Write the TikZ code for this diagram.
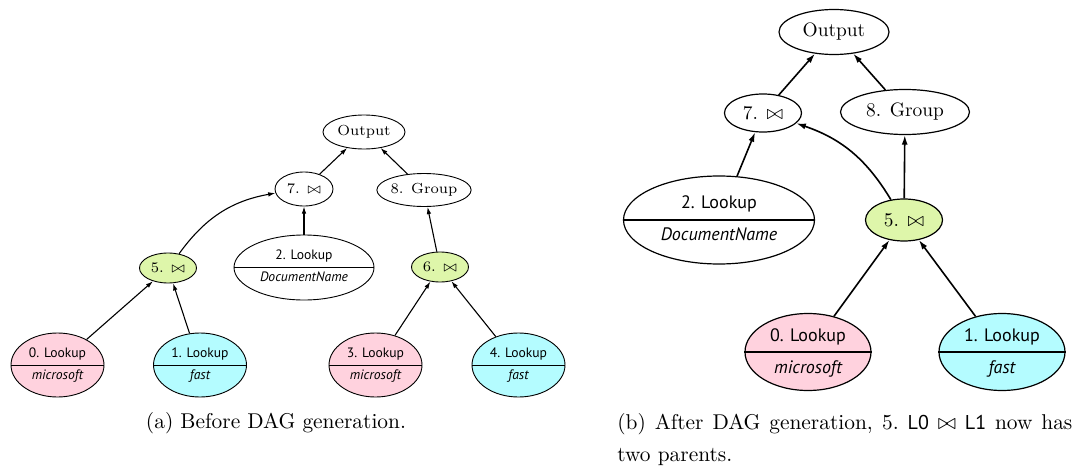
\documentclass[tikz,border=0pt]{standalone}
\usepackage{fontspec}
\newfontfamily\opsans{PT Sans}
\usetikzlibrary{shapes.geometric, arrows.meta}
\definecolor{pinkfill}{RGB}{255,210,222}
\definecolor{cyanfill}{RGB}{180,252,255}
\definecolor{greenfill}{RGB}{222,246,170}

\begin{document}
\begin{tikzpicture}[x=0.5pt, y=-0.5pt,
  op/.style={ellipse, draw, inner sep=0pt},
  % left plan: small scale
  sop/.style={op, line width=0.45pt, font=\fontsize{7.3}{8}\selectfont},
  slab/.style={inner sep=0pt, anchor=base, font=\opsans\fontsize{6.8}{8}\selectfont},
  sline/.style={line width=0.4pt},
  sedge/.style={line width=0.55pt, -{Latex[length=3.6pt,width=2.3pt]}},
  % right plan: large scale
  bop/.style={op, line width=0.6pt, font=\fontsize{9.7}{11}\selectfont},
  blab/.style={inner sep=0pt, anchor=base, font=\opsans\fontsize{9}{10}\selectfont},
  bline/.style={line width=0.55pt},
  bedge/.style={line width=0.8pt, -{Latex[length=4.8pt,width=3pt]}},
  captext/.style={inner sep=0pt, anchor=base, font=\fontsize{10.7}{16}\selectfont},
]
\useasboundingbox (0,0) rectangle (1082,466);

% ---------------- (a) plan tree ----------------
\node[sop, minimum width=41pt, minimum height=17pt] (aout) at (364,132) {Output};
\node[sop, minimum width=29pt, minimum height=17pt] (a7) at (304,189) {7. $\bowtie$};
\node[sop, minimum width=47pt, minimum height=16.5pt] (a8) at (424,190) {8. Group};
\node[sop, fill=greenfill, minimum width=28.5pt, minimum height=15pt] (a5) at (168,268) {5. $\bowtie$};
\node[sop, fill=greenfill, minimum width=28.5pt, minimum height=15pt] (a6) at (440,267) {6. $\bowtie$};

\node[sop, minimum width=70pt, minimum height=32.5pt] (a2) at (304,267.5) {};
\draw[sline] (a2.west) -- (a2.east);
\node[slab] (a2t) at ([yshift=4pt]a2.center) {2. Lookup};
\node[slab] (a2b) at ([yshift=-7pt]a2.center) {\itshape DocumentName};

\node[sop, fill=pinkfill, minimum width=46.5pt, minimum height=32pt] (a0) at (57.5,365) {};
\draw[sline] (a0.west) -- (a0.east);
\node[slab] (a0t) at ([yshift=4pt]a0.center) {0. Lookup};
\node[slab] (a0b) at ([yshift=-7pt]a0.center) {\itshape microsoft};

\node[sop, fill=cyanfill, minimum width=46.5pt, minimum height=32pt] (a1) at (200,365) {};
\draw[sline] (a1.west) -- (a1.east);
\node[slab] (a1t) at ([yshift=4pt]a1.center) {1. Lookup};
\node[slab] (a1b) at ([yshift=-7pt]a1.center) {\itshape fast};

\node[sop, fill=pinkfill, minimum width=46.5pt, minimum height=32pt] (a3) at (375.5,365) {};
\draw[sline] (a3.west) -- (a3.east);
\node[slab] (a3t) at ([yshift=4pt]a3.center) {3. Lookup};
\node[slab] (a3b) at ([yshift=-7pt]a3.center) {\itshape microsoft};

\node[sop, fill=cyanfill, minimum width=46.5pt, minimum height=32pt] (a4) at (518.5,365) {};
\draw[sline] (a4.west) -- (a4.east);
\node[slab] (a4t) at ([yshift=4pt]a4.center) {4. Lookup};
\node[slab] (a4b) at ([yshift=-7pt]a4.center) {\itshape fast};

\draw[sedge] (a0) -- (a5);
\draw[sedge] (a1) -- (a5);
\draw[sedge] (a3) -- (a6);
\draw[sedge] (a4) -- (a6);
\draw[sedge] (a5) to[bend left=22] (a7);
\draw[sedge] (a2) -- (a7);
\draw[sedge] (a6) -- (a8);
\draw[sedge] (a7) -- (aout);
\draw[sedge] (a8) -- (aout);

\node[captext] (capa) at (276,428) {(a) Before DAG generation.};

% ---------------- (b) plan DAG ----------------
\node[bop, minimum width=55pt, minimum height=22.5pt] (bout) at (834,32) {Output};
\node[bop, minimum width=38.5pt, minimum height=19pt] (b7) at (763,113) {7. $\bowtie$};
\node[bop, minimum width=64.5pt, minimum height=22.5pt] (b8) at (905,112) {8. Group};
\node[bop, fill=greenfill, minimum width=38.5pt, minimum height=21pt] (b5) at (904,220) {5. $\bowtie$};

\node[bop, minimum width=95.5pt, minimum height=44pt] (b2) at (719,220) {};
\draw[bline] (b2.west) -- (b2.east);
\node[blab] (b2t) at ([yshift=5.6pt]b2.center) {2. Lookup};
\node[blab] (b2b) at ([yshift=-10pt]b2.center) {\itshape DocumentName};

\node[bop, fill=pinkfill, minimum width=63pt, minimum height=38.5pt] (b0) at (808,352) {};
\draw[bline] (b0.west) -- (b0.east);
\node[blab] (b0t) at ([yshift=5.2pt]b0.center) {0. Lookup};
\node[blab] (b0b) at ([yshift=-10.5pt]b0.center) {\itshape microsoft};

\node[bop, fill=cyanfill, minimum width=63pt, minimum height=38.5pt] (b1) at (1002,352) {};
\draw[bline] (b1.west) -- (b1.east);
\node[blab] (b1t) at ([yshift=5.2pt]b1.center) {1. Lookup};
\node[blab] (b1b) at ([yshift=-10.5pt]b1.center) {\itshape fast};

\draw[bedge] (b0) -- (b5);
\draw[bedge] (b1) -- (b5);
\draw[bedge] (b5) -- (b8);
\draw[bedge] (b5) to[bend right=20] (b7);
\draw[bedge] (b2) -- (b7);
\draw[bedge] (b7) -- (bout);
\draw[bedge] (b8) -- (bout);

\node[captext, anchor=base west, text width=227.5pt, align=justify] (capb) at (617,429)
  {(b) After DAG generation, 5.~{\opsans\fontsize{10}{10}\selectfont L0}~$\bowtie$~{\opsans\fontsize{10}{10}\selectfont L1} now has\linebreak two parents.};
\end{tikzpicture}
\end{document}
